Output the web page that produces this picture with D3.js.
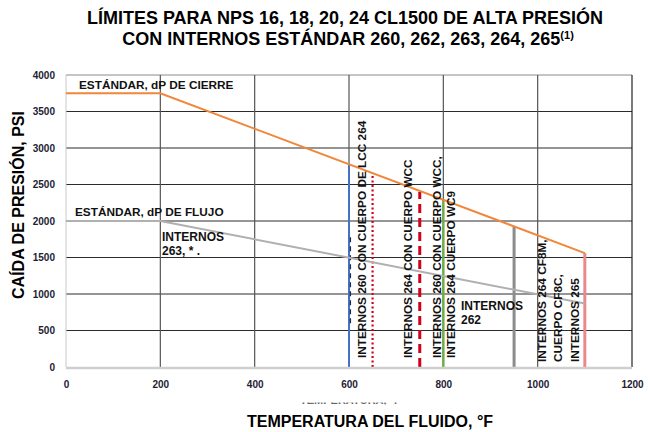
<!DOCTYPE html>
<html>
<head>
<meta charset="utf-8">
<script src="https://cdn.jsdelivr.net/npm/d3@7"></script>
<style>
  body { margin: 0; background: #fff; }
  svg { font-family: "Liberation Sans", Arial, sans-serif; }
</style>
</head>
<body>
<svg width="652" height="432"></svg>
<script>
// data
const xTicks = [0, 200, 400, 600, 800, 1000, 1200];
const yTicks = [0, 500, 1000, 1500, 2000, 2500, 3000, 3500, 4000];

const tempCierre = [0, 200, 1100];
const dpCierre = [3750, 3750, 1560];

const tempFlujo = [0, 200, 1100];
const dpFlujo = [2000, 2000, 870];

// vertical temperature limits: temperature and top of each line
const limitTemps = [600, 650, 750, 800, 950, 1100];
const limitTops = [2780, 2660, 2400, 2290, 1920, 1560];

// hidden dashed series that peeks out along the 600 line
const hiddenTemp = [603, 603];
const hiddenDp = [600, 1800];

const limitStyle = [
  { color: "#4472c4", width: 2, dash: null },
  { color: "#d0021b", width: 2.2, dash: "2,2.5" },
  { color: "#d0021b", width: 3, dash: "9,5" },
  { color: "#70ad47", width: 2.5, dash: null },
  { color: "#8c8c8c", width: 3, dash: null },
  { color: "#e8898a", width: 3, dash: null }
];

const margin = { top: 75, right: 20, bottom: 65, left: 66 };
const width = 652, height = 432;

const x = d3.scaleLinear().domain([0, 1200]).range([margin.left, width - margin.right]);
const y = d3.scaleLinear().domain([0, 4000]).range([height - margin.bottom, margin.top]);

const svg = d3.select("svg");

// grid
svg.append("g").selectAll("line")
  .data(yTicks.filter(d => d > 0 && d < 4000))
  .enter().append("line")
  .attr("x1", x(0)).attr("x2", x(1200))
  .attr("y1", d => y(d)).attr("y2", d => y(d))
  .attr("stroke", "#2b2b2b").attr("stroke-width", 1);

svg.append("line")
  .attr("x1", x(0)).attr("x2", x(1200))
  .attr("y1", y(4000)).attr("y2", y(4000))
  .attr("stroke", "#8a8a8a");

svg.append("g").selectAll("line")
  .data(xTicks.filter(d => d > 0 && d < 1200))
  .enter().append("line")
  .attr("x1", d => x(d)).attr("x2", d => x(d))
  .attr("y1", y(4000)).attr("y2", y(0))
  .attr("stroke", "#555").attr("stroke-width", 1.2);

svg.append("line")
  .attr("x1", x(1200)).attr("x2", x(1200))
  .attr("y1", y(4000)).attr("y2", y(0))
  .attr("stroke", "#222").attr("stroke-width", 1.2);

svg.append("line")
  .attr("x1", x(0)).attr("x2", x(0))
  .attr("y1", y(4000)).attr("y2", y(0))
  .attr("stroke", "#c8c8c8");

// axes (labels only)
const xAxis = d3.axisBottom(x).tickValues(xTicks).tickSize(0).tickPadding(14).tickFormat(d => d);
const yAxis = d3.axisLeft(y).tickValues(yTicks).tickSize(0).tickPadding(11).tickFormat(d => d);

const gx = svg.append("g").attr("transform", `translate(0,${y(0)})`).call(xAxis);
const gy = svg.append("g").attr("transform", `translate(${x(0)},0)`).call(yAxis);
[gx, gy].forEach(g => {
  g.select(".domain").remove();
  g.selectAll("text")
    .attr("font-family", "'Liberation Sans', Arial, sans-serif")
    .attr("font-size", 10).attr("font-weight", "bold").attr("fill", "#1d2233");
});

// vertical limit lines
limitTemps.forEach((t, i) => {
  const s = limitStyle[i];
  svg.append("line")
    .attr("x1", x(t)).attr("x2", x(t))
    .attr("y1", y(0)).attr("y2", y(limitTops[i]))
    .attr("stroke", s.color).attr("stroke-width", s.width)
    .attr("stroke-dasharray", s.dash);
});

svg.append("line")
  .attr("x1", x(hiddenTemp[0])).attr("x2", x(hiddenTemp[1]))
  .attr("y1", y(hiddenDp[0])).attr("y2", y(hiddenDp[1]))
  .attr("stroke", "#1f2a44").attr("stroke-width", 1.3).attr("stroke-dasharray", "5,4");

// x axis line
svg.append("line")
  .attr("x1", x(0)).attr("x2", x(1200))
  .attr("y1", y(0) + 1).attr("y2", y(0) + 1)
  .attr("stroke", "#cfcfcf").attr("stroke-width", 2.5);

// curves
const line = d3.line().x(d => x(d[0])).y(d => y(d[1]));

svg.append("path")
  .datum(tempFlujo.map((t, i) => [t, dpFlujo[i]]))
  .attr("d", line).attr("fill", "none")
  .attr("stroke", "#b0b0b0").attr("stroke-width", 2);

svg.append("path")
  .datum(tempCierre.map((t, i) => [t, dpCierre[i]]))
  .attr("d", line).attr("fill", "none")
  .attr("stroke", "#f0873a").attr("stroke-width", 2);

// annotations
const lab = (px, py, txt, size) => svg.append("text")
  .attr("x", px).attr("y", py)
  .attr("font-size", size || 12).attr("font-weight", "bold").attr("fill", "#111")
  .text(txt);

lab(79, 89, "ESTÁNDAR, dP DE CIERRE", 11.8);
lab(75, 216, "ESTÁNDAR, dP DE FLUJO", 11.8);
lab(162, 241, "INTERNOS");
lab(162, 255, "263, *  .");
lab(461, 310, "INTERNOS");
lab(461, 324, "262");

const vlab = (px, py, txt) => svg.append("text")
  .attr("transform", `translate(${px},${py}) rotate(-90)`)
  .attr("font-size", 11.8).attr("font-weight", "bold").attr("fill", "#111")
  .text(txt);

vlab(366, 358, "INTERNOS 260 CON CUERPO DE LCC 264");
vlab(412, 358, "INTERNOS 264 CON CUERPO WCC");
vlab(441, 358, "INTERNOS 260 CON CUERPO WCC,");
vlab(455, 358, "INTERNOS 264 CUERPO WC9");
vlab(546, 362, "INTERNOS 264 CF8M,");
vlab(562, 362, "CUERPO CF8C,");
vlab(579, 362, "INTERNOS 265");

// titles
svg.append("text")
  .attr("x", 345).attr("y", 24).attr("text-anchor", "middle")
  .attr("font-size", 18).attr("font-weight", "bold")
  .text("LÍMITES PARA NPS 16, 18, 20, 24 CL1500 DE ALTA PRESIÓN");

const t2 = svg.append("text")
  .attr("x", 348).attr("y", 45).attr("text-anchor", "middle")
  .attr("font-size", 18).attr("font-weight", "bold");
t2.append("tspan").text("CON INTERNOS ESTÁNDAR 260, 262, 263, 264, 265");
t2.append("tspan").attr("font-size", 11).attr("dy", -6).text("(1)");

svg.append("text")
  .attr("transform", "translate(24,205) rotate(-90)")
  .attr("text-anchor", "middle")
  .attr("font-size", 16).attr("font-weight", "bold")
  .text("CAÍDA DE PRESIÓN, PSI");

svg.append("text")
  .attr("x", 370).attr("y", 427).attr("text-anchor", "middle")
  .attr("font-size", 16).attr("font-weight", "bold")
  .text("TEMPERATURA DEL FLUIDO, °F");

// clipped remnant of an old axis title
svg.append("clipPath").attr("id", "cut")
  .append("rect").attr("x", 290).attr("y", 402.5).attr("width", 120).attr("height", 2);
svg.append("text")
  .attr("clip-path", "url(#cut)")
  .attr("x", 300).attr("y", 404)
  .attr("font-size", 11).attr("font-weight", "bold").attr("fill", "#666")
  .text("TEMPERATURA, °F");
</script>
</body>
</html>
